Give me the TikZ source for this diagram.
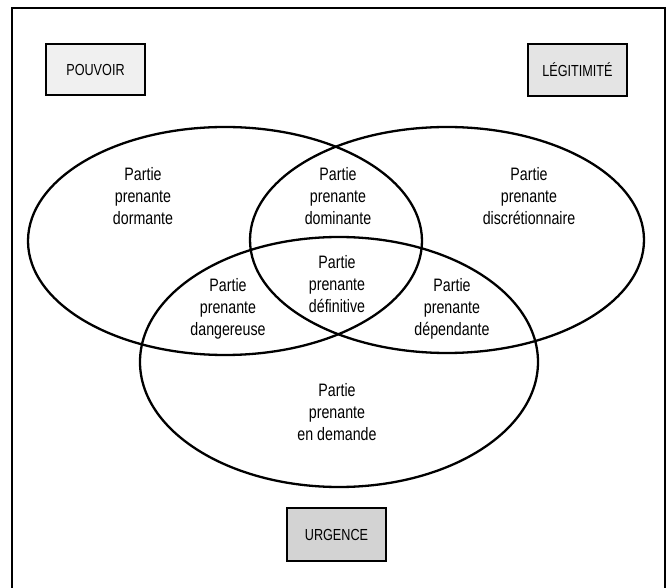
\documentclass[tikz,border=0pt]{standalone}
\usepackage{fontspec}
\setmainfont{Liberation Sans}[FakeStretch=0.79]
\usetikzlibrary{shapes.geometric}
\definecolor{boxA}{HTML}{F0F0F0}
\definecolor{boxB}{HTML}{E4E4E4}
\definecolor{boxC}{HTML}{D3D3D3}
\begin{document}
\begin{tikzpicture}[x=1pt,y=-1pt,
  setcircle/.style={ellipse,draw,line width=2.3pt,inner sep=0pt},
  region/.style={align=center,font=\fontsize{18}{22}\selectfont,inner sep=0pt},
  labelbox/.style={draw,line width=2.4pt,minimum width=99pt,minimum height=51pt,inner sep=0pt,font=\fontsize{16}{18}\selectfont}]
\useasboundingbox (0,0) rectangle (670,588);
\draw[line width=1.2pt] (12,8) rectangle (665,592);
% sets
\node[setcircle,minimum width=394pt,minimum height=228pt] (pouvoir) at (225,241) {};
\node[setcircle,minimum width=394pt,minimum height=226pt] (legit) at (447,240) {};
\node[setcircle,minimum width=398pt,minimum height=250pt] (urgence) at (339,362) {};
% labels
\node[labelbox,fill=boxA] (lp) at (95.5,69.5) {POUVOIR};
\node[labelbox,fill=boxB,minimum height=52pt] (ll) at (577.5,70) {LÉGITIMITÉ};
\node[labelbox,fill=boxC,minimum height=53pt] (lu) at (336.5,534.5) {URGENCE};
% regions
\node[region] (dormante) at (143,196) {Partie\\prenante\\dormante};
\node[region] (dominante) at (338,196) {Partie\\prenante\\dominante};
\node[region] (discr) at (529,196) {Partie\\prenante\\discrétionnaire};
\node[region] (definitive) at (337,284) {Partie\\prenante\\définitive};
\node[region] (dangereuse) at (228,309) {Partie\\prenante\\dangereuse};
\node[region] (dependante) at (452,309) {Partie\\prenante\\dépendante};
\node[region] (demande) at (337,412) {Partie\\prenante\\en demande};
\end{tikzpicture}
\end{document}
